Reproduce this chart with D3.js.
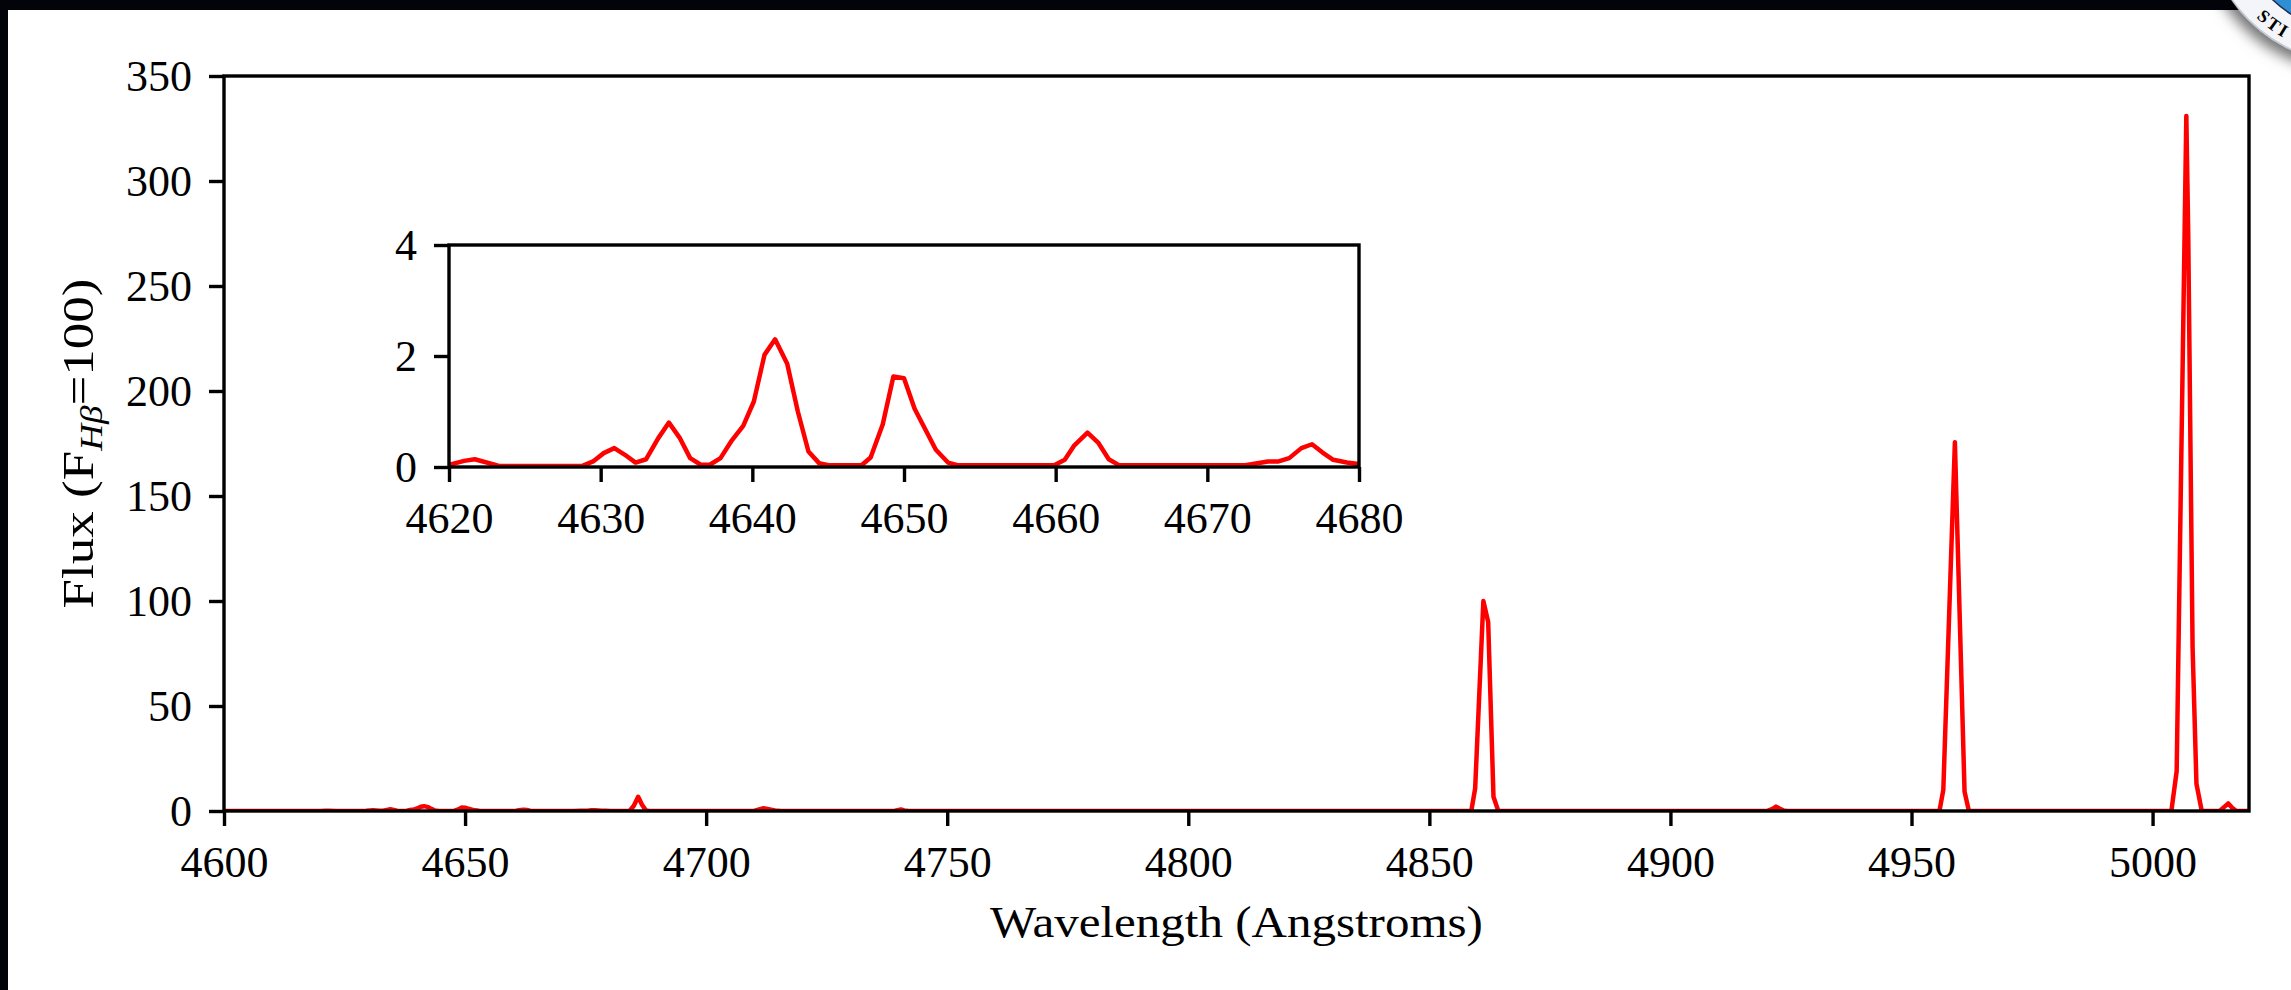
<!DOCTYPE html>
<html>
<head>
<meta charset="utf-8">
<script src="https://cdn.jsdelivr.net/npm/d3@7"></script>
<style>
  html, body { margin: 0; padding: 0; background: #ffffff; overflow: hidden; }
  svg { display: block; }
  text { font-family: "Liberation Serif", "Times New Roman", serif; fill: #000; }
</style>
</head>
<body>
<script>
// Emission-line spectrum, flux normalised so that F(Hbeta) = 100
const wavelength = [
  4600.0, 4620.0, 4621.0, 4621.7, 4623.3, 4628.8, 4629.5, 4630.2, 4630.9, 4631.6,
  4632.3, 4633.0, 4633.8, 4634.5, 4635.2, 4635.9, 4636.6, 4637.2, 4637.9, 4638.6,
  4639.4, 4640.1, 4640.8, 4641.5, 4642.3, 4643.0, 4643.7, 4644.4, 4645.1, 4647.2,
  4647.8, 4648.6, 4649.3, 4650.0, 4650.7, 4651.4, 4652.1, 4652.9, 4653.6, 4659.9,
  4660.6, 4661.2, 4662.1, 4662.8, 4663.5, 4664.2, 4672.5, 4674.0, 4674.7, 4675.4,
  4676.2, 4676.9, 4677.6, 4678.3, 4679.2, 4680.2, 4681.0, 4684.1, 4685.0, 4685.9,
  4686.7, 4687.5, 4688.2, 4709.9, 4711.2, 4711.9, 4712.7, 4713.5, 4714.3, 4715.5,
  4739.0, 4739.7, 4740.4, 4741.1, 4742.0, 4858.7, 4859.5, 4861.2, 4862.2, 4863.3,
  4864.3, 4920.1, 4921.2, 4921.9, 4922.6, 4923.4, 4924.2, 4955.8, 4956.6, 4959.0,
  4961.0, 4961.9, 5003.9, 5005.0, 5007.0, 5007.4, 5008.3, 5009.1, 5010.2, 5013.9,
  5015.0, 5015.7, 5016.5, 5017.4, 5020.0
];
const flux = [
  0.02, 0.04, 0.11, 0.14, 0.02, 0.02, 0.10, 0.25, 0.34, 0.22,
  0.08, 0.14, 0.52, 0.80, 0.53, 0.16, 0.04, 0.04, 0.16, 0.46,
  0.74, 1.18, 2.02, 2.30, 1.86, 1.00, 0.28, 0.07, 0.03, 0.03,
  0.17, 0.77, 1.63, 1.60, 1.05, 0.68, 0.31, 0.08, 0.03, 0.03,
  0.13, 0.38, 0.62, 0.44, 0.14, 0.03, 0.03, 0.10, 0.10, 0.16,
  0.34, 0.41, 0.26, 0.13, 0.08, 0.05, 0.02, 0.02, 2.5, 6.8,
  3.0, 0.3, 0.02, 0.02, 0.9, 1.3, 1.0, 0.6, 0.3, 0.02,
  0.02, 0.4, 0.7, 0.3, 0.02, 0.02, 10.8, 100.0, 90.0, 6.8,
  0.02, 0.02, 1.0, 2.1, 1.2, 0.3, 0.02, 0.02, 10.1, 175.6,
  9.3, 0.02, 0.02, 19.0, 331.0, 274.0, 78.0, 13.0, 0.02, 0.02,
  2.2, 3.6, 1.5, 0.02, 0.02
];

const mainXTicks = [4600, 4650, 4700, 4750, 4800, 4850, 4900, 4950, 5000];
const mainYTicks = [0, 50, 100, 150, 200, 250, 300, 350];
const insetXTicks = [4620, 4630, 4640, 4650, 4660, 4670, 4680];
const insetYTicks = [0, 2, 4];

const mainXDomain = [4600, 5020];
const mainYDomain = [0, 350];
const insetXDomain = [4620, 4680];
const insetYDomain = [0, 4];

const xLabel = "Wavelength (Angstroms)";

// letters of the seal that show inside the page corner
const sealLetters = ["S", "T", "I"];

const W = 2291, H = 990;
const FONT = 44;
const SPINE = 3.4;
const TICK = 15;

const points = wavelength.map((w, i) => [w, flux[i]]);

const svg = d3.select("body").append("svg")
  .attr("width", W).attr("height", H)
  .attr("viewBox", `0 0 ${W} ${H}`);

svg.append("rect").attr("width", W).attr("height", H).attr("fill", "#ffffff");

const defs = svg.append("defs");

// ---------- main axes ----------
const x = d3.scaleLinear().domain(mainXDomain).range([224, 2249]);
const y = d3.scaleLinear().domain(mainYDomain).range([811, 76]);

defs.append("clipPath").attr("id", "clip-main")
  .append("rect")
  .attr("x", x.range()[0]).attr("y", y.range()[1])
  .attr("width", x.range()[1] - x.range()[0])
  .attr("height", y.range()[0] - y.range()[1]);

const line = d3.line().x(d => x(d[0])).y(d => y(d[1]));

svg.append("path")
  .datum(points)
  .attr("clip-path", "url(#clip-main)")
  .attr("d", line)
  .attr("fill", "none")
  .attr("stroke", "#ff0000")
  .attr("stroke-width", 4.5)
  .attr("stroke-linejoin", "round")
  .attr("stroke-linecap", "square");

function styleAxis(g) {
  g.select(".domain").remove();
  g.selectAll(".tick line").attr("stroke", "#000").attr("stroke-width", SPINE);
  g.selectAll(".tick text").attr("font-size", FONT).attr("fill", "#000")
    .attr("font-family", '"Liberation Serif", "Times New Roman", serif');
}

svg.append("g")
  .attr("transform", `translate(0,${y.range()[0]})`)
  .call(d3.axisBottom(x).tickValues(mainXTicks).tickFormat(d3.format("d"))
    .tickSize(TICK).tickSizeOuter(0).tickPadding(20))
  .call(styleAxis);

svg.append("g")
  .attr("transform", `translate(${x.range()[0]},0)`)
  .call(d3.axisLeft(y).tickValues(mainYTicks).tickFormat(d3.format("d"))
    .tickSize(TICK).tickSizeOuter(0).tickPadding(17))
  .call(styleAxis);

svg.append("rect")
  .attr("x", x.range()[0]).attr("y", y.range()[1])
  .attr("width", x.range()[1] - x.range()[0])
  .attr("height", y.range()[0] - y.range()[1])
  .attr("fill", "none").attr("stroke", "#000").attr("stroke-width", SPINE);

// axis titles, stretched to the width of the serif face used for the figure
function fitText(sel, target) {
  const len = sel.node().getComputedTextLength();
  return target / len;
}

const xTitle = svg.append("text")
  .attr("text-anchor", "middle")
  .attr("font-size", FONT)
  .text(xLabel);
const fx = fitText(xTitle, 493);
xTitle.attr("transform", `translate(${(x.range()[0] + x.range()[1]) / 2},937) scale(${fx},1)`);

const yTitle = svg.append("text")
  .attr("text-anchor", "middle")
  .attr("font-size", FONT);
yTitle.append("tspan").text("Flux (F");
yTitle.append("tspan").attr("font-size", FONT * 0.7).attr("font-style", "italic")
  .attr("dy", FONT * 0.2).text("H\u03B2");
yTitle.append("tspan").attr("dy", -FONT * 0.2).text("=100)");
const fy = fitText(yTitle, 330);
yTitle.attr("transform",
  `translate(93,${(y.range()[0] + y.range()[1]) / 2}) rotate(-90) scale(${fy},1)`);

// ---------- inset axes ----------
const xi = d3.scaleLinear().domain(insetXDomain).range([449, 1359]);
const yi = d3.scaleLinear().domain(insetYDomain).range([467, 245]);

svg.append("rect")
  .attr("x", xi.range()[0]).attr("y", yi.range()[1])
  .attr("width", xi.range()[1] - xi.range()[0])
  .attr("height", yi.range()[0] - yi.range()[1])
  .attr("fill", "#ffffff");

defs.append("clipPath").attr("id", "clip-inset")
  .append("rect")
  .attr("x", xi.range()[0]).attr("y", yi.range()[1])
  .attr("width", xi.range()[1] - xi.range()[0])
  .attr("height", yi.range()[0] - yi.range()[1]);

const lineInset = d3.line().x(d => xi(d[0])).y(d => yi(d[1]));

svg.append("path")
  .datum(points)
  .attr("clip-path", "url(#clip-inset)")
  .attr("d", lineInset)
  .attr("fill", "none")
  .attr("stroke", "#ff0000")
  .attr("stroke-width", 4.5)
  .attr("stroke-linejoin", "round")
  .attr("stroke-linecap", "square");

svg.append("g")
  .attr("transform", `translate(0,${yi.range()[0]})`)
  .call(d3.axisBottom(xi).tickValues(insetXTicks).tickFormat(d3.format("d"))
    .tickSize(TICK).tickSizeOuter(0).tickPadding(20))
  .call(styleAxis);

svg.append("g")
  .attr("transform", `translate(${xi.range()[0]},0)`)
  .call(d3.axisLeft(yi).tickValues(insetYTicks).tickFormat(d3.format("d"))
    .tickSize(TICK).tickSizeOuter(0).tickPadding(17))
  .call(styleAxis);

svg.append("rect")
  .attr("x", xi.range()[0]).attr("y", yi.range()[1])
  .attr("width", xi.range()[1] - xi.range()[0])
  .attr("height", yi.range()[0] - yi.range()[1])
  .attr("fill", "none").attr("stroke", "#000").attr("stroke-width", SPINE);

// ---------- page frame ----------
svg.append("rect").attr("x", 0).attr("y", 0).attr("width", W).attr("height", 10).attr("fill", "#03040a");
svg.append("rect").attr("x", 0).attr("y", 0).attr("width", 8).attr("height", H).attr("fill", "#03040a");

// ---------- seal in the corner ----------
const seal = { cx: 2356, cy: -88, r: 152, inner: 121, textR: 139 };
const shadow = defs.append("filter").attr("id", "seal-shadow")
  .attr("x", "-30%").attr("y", "-30%").attr("width", "160%").attr("height", "160%");
shadow.append("feDropShadow").attr("dx", -5).attr("dy", 7)
  .attr("stdDeviation", 7).attr("flood-color", "#000").attr("flood-opacity", 0.55);

const sg = svg.append("g");
sg.append("circle").attr("cx", seal.cx).attr("cy", seal.cy).attr("r", seal.r)
  .attr("fill", "#f3f5f9").attr("stroke", "#c4cad6").attr("stroke-width", 1.5)
  .attr("filter", "url(#seal-shadow)");
sg.append("circle").attr("cx", seal.cx).attr("cy", seal.cy).attr("r", seal.inner)
  .attr("fill", "#2f8fd3");
sg.append("circle").attr("cx", seal.cx).attr("cy", seal.cy).attr("r", seal.inner)
  .attr("fill", "none").attr("stroke", "#1e2c58").attr("stroke-width", 1.5);

// letters set on the ring, tops pointing to the centre of the seal
const letterAngles = [131.5, 126.25, 121.5];
sealLetters.forEach((ch, i) => {
  const a = letterAngles[i] * Math.PI / 180;
  const px = seal.cx + seal.textR * Math.cos(a), py = seal.cy + seal.textR * Math.sin(a);
  sg.append("text")
    .attr("transform", `translate(${px},${py}) rotate(${letterAngles[i] - 90})`)
    .attr("text-anchor", "middle")
    .attr("dy", "0.35em")
    .attr("font-size", 18).attr("font-weight", "bold")
    .attr("fill", "#1e2c58")
    .text(ch);
});
</script>
</body>
</html>
